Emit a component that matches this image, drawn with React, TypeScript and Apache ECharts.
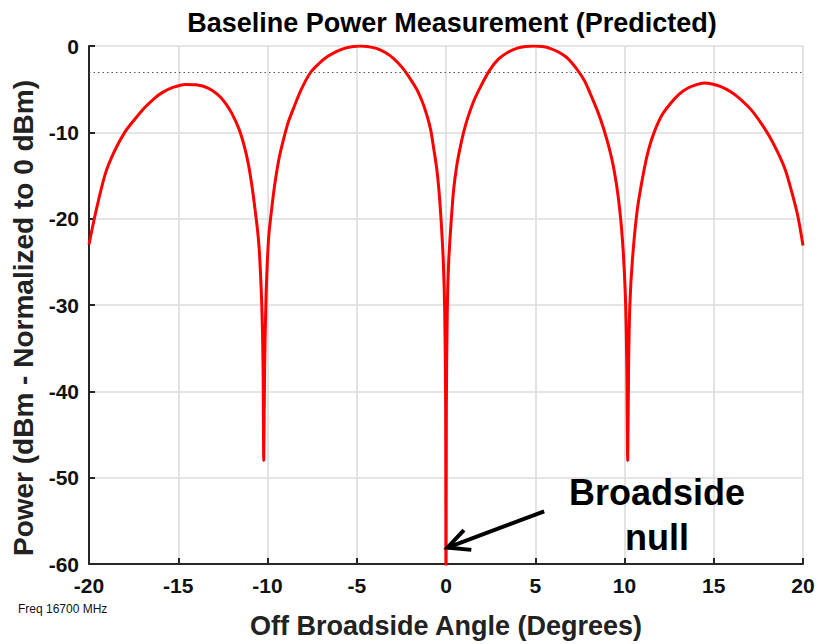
import React, { useEffect, useRef } from "react";
import * as echarts from "echarts";

// Off-broadside angle (degrees)
const angles = [
  -20, -19.66, -19.1, -18.6, -18.0, -17.4, -16.86, -16.3, -15.9, -15.3, -14.6, -14.0, -13.3, -12.8,
  -12.4, -12.0, -11.6, -11.3, -11.07, -10.85, -10.7, -10.55, -10.45, -10.32, -10.25, -10.21,
  -10.16, -10.08, -9.94, -9.75, -9.57, -9.35, -9.1, -8.85, -8.54, -8.1, -7.6, -7.1, -6.66, -6.2,
  -5.73, -5.27, -4.8, -4.33, -3.86, -3.4, -2.93, -2.45, -2.0, -1.62, -1.3, -1.06, -0.85, -0.68,
  -0.52, -0.4, -0.28, -0.15, -0.07, -0.02, 0, 0.02, 0.07, 0.15, 0.3, 0.43, 0.6, 0.81, 1.0, 1.19,
  1.55, 1.94, 2.45, 2.95, 3.5, 4.0, 4.45, 4.93, 5.4, 5.86, 6.3, 6.8, 7.3, 7.75, 8.1, 8.5, 8.85,
  9.15, 9.41, 9.65, 9.88, 10.05, 10.13, 10.18, 10.23, 10.3, 10.45, 10.72, 11.1, 11.35, 11.66,
  12.1, 12.6, 13.05, 13.53, 14.0, 14.46, 14.9, 15.4, 15.95, 16.52, 17.1, 17.64, 18.1, 18.58, 19.0,
  19.33, 19.7, 20,
];
// Normalized power (dB) at those angles
const power = [
  -23.0, -19.6, -14.9, -12.3, -10.0, -8.4, -7.1, -6.0, -5.4, -4.8, -4.45, -4.5, -4.9, -5.6,
  -6.5, -7.8, -9.6, -11.6, -13.7, -16.5, -18.9, -21.5, -24.0, -30, -37, -48,
  -37, -29, -22.3, -18.6, -15.7, -13.0, -10.8, -8.9, -7.2, -5.0, -3.1, -2.0, -1.25, -0.7,
  -0.3, -0.08, 0, -0.08, -0.3, -0.75, -1.45, -2.5, -3.8, -5.1, -6.6, -8.1, -9.8, -12,
  -14.2, -16.6, -20, -25, -31, -42, -70, -42, -31, -25, -20, -16.6, -13.9, -11.6, -9.9, -8.5,
  -6.4, -4.7, -2.8, -1.5, -0.7, -0.25, -0.06, 0, -0.07, -0.3, -0.7, -1.4, -2.6, -4.0, -5.6, -7.6, -9.7,
  -11.9, -14.3, -17.5, -22.3, -29, -37, -48, -37, -30, -24.6, -18.9, -14.3, -12.0, -10.0,
  -8.0, -6.6, -5.6, -4.9, -4.5, -4.3, -4.4, -4.7, -5.3, -6.2, -7.4, -8.9, -10.4, -12.3, -14.3,
  -16.6, -19.6, -23.1,
];

const xRange = [-20, 20];
const xStep = 5;
const yRange = [-60, 0];
const yStep = 10;
const halfPowerLevel = -3;

const titleText = "Baseline Power Measurement (Predicted)";
const xName = "Off Broadside Angle (Degrees)";
const yName = "Power (dBm - Normalized to 0 dBm)";
const freqNote = "Freq 16700 MHz";
const annotationLines = ["Broadside", "null"];
const arrowTail = [5.5, -53.9];
const arrowTip = [0.08, -58.1];

export default function App() {
  const ref = useRef<HTMLDivElement>(null);
  useEffect(() => {
    if (!ref.current) return;
    const chart = echarts.init(ref.current, null, { renderer: "svg" });
    const font = "'Liberation Sans', Arial, Helvetica, sans-serif";
    const axisColor = "#262626";
    const option: any = {
      animation: false,
      backgroundColor: "#ffffff",
      title: {
        text: titleText,
        left: 447,
        top: 4,
        textAlign: "center",
        textStyle: { fontFamily: font, fontWeight: "bold", fontSize: 27, color: "#000" },
      },
      grid: { left: 89, right: 15, top: 46, bottom: 76, containLabel: false },
      xAxis: {
        type: "value",
        min: xRange[0],
        max: xRange[1],
        interval: xStep,
        name: xName,
        nameLocation: "middle",
        nameGap: 48,
        nameTextStyle: { fontFamily: font, fontWeight: "bold", fontSize: 27, color: "#222" },
        axisLine: { onZero: false, lineStyle: { color: axisColor, width: 2 } },
        axisTick: { inside: true, length: 6, lineStyle: { color: axisColor, width: 2 } },
        axisLabel: { fontFamily: font, fontWeight: "bold", fontSize: 21, color: "#111", margin: 11 },
        splitLine: { show: true, lineStyle: { color: "#dcdcdc", width: 1.6 } },
      },
      yAxis: {
        type: "value",
        min: yRange[0],
        max: yRange[1],
        interval: yStep,
        name: yName,
        nameLocation: "middle",
        nameGap: 52,
        nameTextStyle: {
          fontFamily: font,
          fontWeight: "bold",
          fontSize: 28,
          color: "#222",
          padding: [0, 26, 0, 0],
        },
        axisLine: { onZero: false, lineStyle: { color: axisColor, width: 2 } },
        axisTick: { inside: true, length: 6, lineStyle: { color: axisColor, width: 2 } },
        axisLabel: { fontFamily: font, fontWeight: "bold", fontSize: 21, color: "#111", margin: 10 },
        splitLine: { show: true, lineStyle: { color: "#dcdcdc", width: 1.6 } },
      },
      series: [
        {
          type: "line",
          data: angles.map((a, i) => [a, power[i]]),
          showSymbol: false,
          smooth: 0.3,
          clip: true,
          lineStyle: { color: "#ff0000", width: 3 },
          markLine: {
            silent: true,
            symbol: ["none", "none"],
            label: { show: false },
            lineStyle: { color: "#555", type: [1.5, 3], width: 1.2 },
            data: [{ yAxis: halfPowerLevel }],
          },
        },
      ],
    };
    chart.setOption(option);

    const tip = chart.convertToPixel({ gridIndex: 0 }, arrowTip) as number[];
    const tail = chart.convertToPixel({ gridIndex: 0 }, arrowTail) as number[];
    const ang = Math.atan2(tail[1] - tip[1], tail[0] - tip[0]);
    const armLen = 24;
    const spread = (26 * Math.PI) / 180;
    const arm1 = [tip[0] + armLen * Math.cos(ang - spread), tip[1] + armLen * Math.sin(ang - spread)];
    const arm2 = [tip[0] + armLen * Math.cos(ang + spread), tip[1] + armLen * Math.sin(ang + spread)];

    chart.setOption({
      graphic: [
        {
          type: "polyline",
          shape: { points: [tail, tip] },
          style: { stroke: "#000", lineWidth: 4, fill: "none" },
          z: 100,
        },
        {
          type: "polyline",
          shape: { points: [arm1, tip, arm2] },
          style: { stroke: "#000", lineWidth: 4, fill: "none", lineJoin: "miter" },
          z: 100,
        },
        {
          type: "text",
          x: 657,
          y: 492,
          style: {
            text: annotationLines[0],
            font: `bold 36px ${font}`,
            fill: "#000",
            align: "center",
            verticalAlign: "middle",
          },
          z: 100,
        },
        {
          type: "text",
          x: 657,
          y: 537,
          style: {
            text: annotationLines[1],
            font: `bold 36px ${font}`,
            fill: "#000",
            align: "center",
            verticalAlign: "middle",
          },
          z: 100,
        },
        {
          type: "text",
          x: 18,
          y: 609,
          style: {
            text: freqNote,
            font: `12px ${font}`,
            fill: "#111",
            align: "left",
            verticalAlign: "middle",
          },
          z: 100,
        },
      ],
    });

    return () => chart.dispose();
  }, []);
  return (
    <div
      ref={ref}
      style={{ position: "absolute", left: 0, top: 0, width: 818, height: 644, overflow: "hidden" }}
    />
  );
}
